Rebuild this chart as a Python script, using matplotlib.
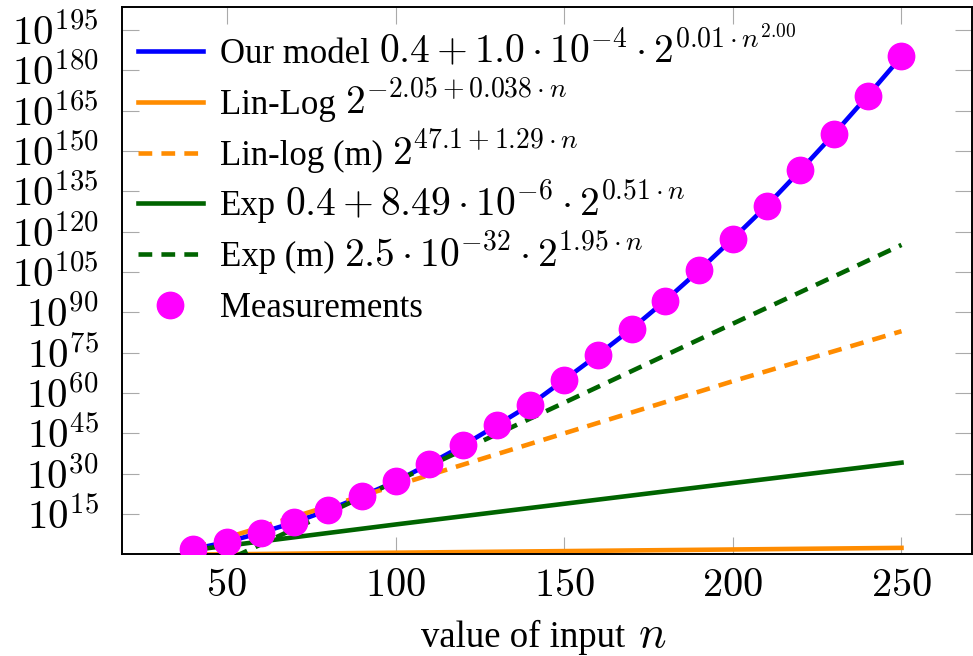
import numpy as np
import matplotlib
matplotlib.use('Agg')
import matplotlib.pyplot as plt
from matplotlib.transforms import IdentityTransform

plt.rcParams['font.family'] = ['Liberation Serif', 'DejaVu Serif']
plt.rcParams['mathtext.fontset'] = 'cm'

# values (log10 of y)
n_meas = [40, 50, 60, 70, 80, 90, 100, 110, 120, 130, 140,
          150, 160, 170, 180, 190, 200, 210, 220, 230, 240, 250]
meas_exp = [1.9, 4.6, 8.0, 11.9, 16.4, 21.6, 27.1, 33.6, 40.5, 48.0, 55.7,
            64.9, 74.2, 83.9, 94.4, 105.6, 117.4, 129.6, 142.8, 156.4, 170.6, 185.2]
model_exp = meas_exp

n_lines = [40, 100, 150, 200, 250]
linlog_exp = [-0.1, 0.6, 1.2, 1.8, 2.4]
linlog_m_exp = [2.3, 25.6, 45.0, 64.4, 83.0]
exp_exp = [1.6, 11.1, 18.8, 26.5, 34.1]
exp_m_exp = [-8.1, 27.1, 56.4, 85.8, 115.1]

ytick_exp = list(range(15, 196, 15))
xticks = [50, 100, 150, 200, 250]

names = ['Our model', 'Lin-Log', 'Lin-log (m)', 'Exp', 'Exp (m)', 'Measurements']
formulas = [r'$0.4+1.0\cdot10^{-4}\cdot2^{0.01\cdot n^{2.00}}$',
            r'$2^{-2.05+0.038\cdot n}$',
            r'$2^{47.1+1.29\cdot n}$',
            r'$0.4+8.49\cdot10^{-6}\cdot2^{0.51\cdot n}$',
            r'$2.5\cdot10^{-32}\cdot2^{1.95\cdot n}$',
            None]


def p10(v):
    return 10.0 ** np.array(v)


fig = plt.figure(figsize=(9.73, 6.56), dpi=100)
ax = fig.add_axes([0.1257, 0.155, 0.8736, 0.8343])

lw = 3.3
dash = (3.0, 2.0)
ax.plot(n_meas, p10(model_exp), color='#0000ff', lw=lw, label=names[0])
ax.plot(n_lines, p10(linlog_exp), color='#ff8c00', lw=lw, label=names[1])
ax.plot(n_lines, p10(linlog_m_exp), color='#ff8c00', lw=lw, dashes=dash,
        label=names[2])
ax.plot(n_lines, p10(exp_exp), color='#006400', lw=lw, label=names[3])
ax.plot(n_lines, p10(exp_m_exp), color='#006400', lw=lw, dashes=dash,
        label=names[4])
ax.plot(n_meas, p10(meas_exp), 'o', color='#ff00ff', ms=19, ls='none',
        label=names[5], zorder=5)

ax.set_yscale('log')
ax.set_xlim(19, 271)
ax.set_ylim(1, 10 ** 203.6)
ax.set_xticks(xticks)
ax.set_xticklabels([r'$%d$' % v for v in xticks], fontsize=29)
ax.set_yticks([10.0 ** e for e in ytick_exp])
ax.set_yticklabels([r'$10^{%d}$' % e for e in ytick_exp], fontsize=29.5)
ax.minorticks_off()
ax.tick_params(direction='in', length=12.5, width=0.8, color='#aaaaaa',
               top=True, right=True)
ax.tick_params(axis='x', pad=9.5)
ax.tick_params(axis='y', pad=17)
for s in ax.spines.values():
    s.set_linewidth(1.4)

leg = ax.legend(loc='upper left', fontsize=25, frameon=False, handlelength=1.87,
                handletextpad=0.5, labelspacing=0.51, borderaxespad=0.0,
                borderpad=0.0, bbox_to_anchor=(0.0185, 0.943))

xl = fig.text(523.5 / 973, (656 - 646.7) / 656, 'value of input',
              ha='center', va='baseline', fontsize=26.5)

# math parts are set larger than the words, as in the original
fig.canvas.draw()
rend = fig.canvas.get_renderer()


def append_math(t, s, size, gap):
    bb = t.get_window_extent(rend)
    x0, y0 = t.get_transform().transform(t.get_position())
    fig.text(bb.x1 + gap, y0, s, fontsize=size, ha='left', va='baseline',
             transform=IdentityTransform())


for t, f in zip(leg.get_texts(), formulas):
    if f:
        append_math(t, f, 28.5, 9)
append_math(xl, r'$n$', 33, 12)

fig.savefig('out.png', dpi=100)
